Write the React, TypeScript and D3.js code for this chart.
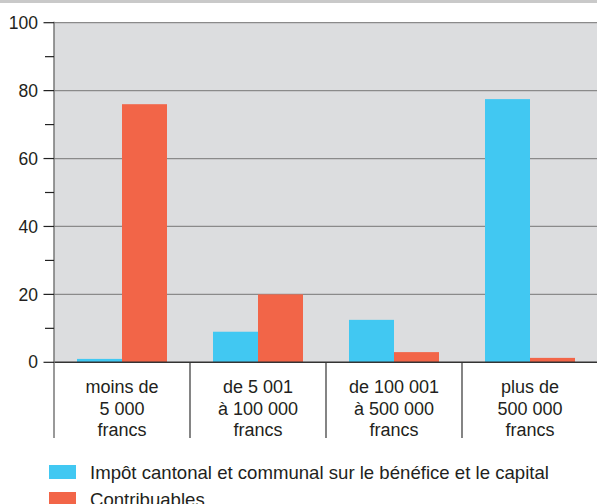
import React from "react";
import * as d3 from "d3";

const categories = [
  ["moins de", "5 000", "francs"],
  ["de 5 001", "à 100 000", "francs"],
  ["de 100 001", "à 500 000", "francs"],
  ["plus de", "500 000", "francs"],
];
const impot = [1.0, 9.0, 12.5, 77.5];
const contribuables = [76.0, 20.0, 3.0, 1.3];
const seriesNames = ["Impôt cantonal et communal sur le bénéfice et le capital", "Contribuables"];
const colors = ["#41C8F2", "#F26548"];
const majorTicks = [0, 20, 40, 60, 80, 100];
const minorTicks = [10, 30, 50, 70, 90];

const W = 597, H = 504;
const left = 54, right = 598, top = 22.7, zero = 362.3;
const font = "'Liberation Sans', Arial, Helvetica, sans-serif";

export default function App() {
  const y = d3.scaleLinear().domain([0, 100]).range([zero, top]);
  const x = d3.scaleBand().domain(categories.map((_, i) => String(i))).range([left, right]).paddingInner(0).paddingOuter(0);
  const inner = d3.scaleBand().domain(["0", "1"]).range([23, 113]);
  const series = [impot, contribuables];
  return (
    <svg width={W} height={H} style={{ position: "absolute", left: 0, top: 0, fontFamily: font }}>
      <rect x={0} y={0} width={W} height={H} fill="#fff" />
      <rect x={0} y={0} width={W} height={3} fill="#c9c9c9" />
      <rect x={left} y={top} width={right - left} height={zero - top} fill="#dcdddf" />
      {majorTicks.filter((t) => t > 0).map((t) => (
        <line key={"g" + t} x1={left} x2={right} y1={y(t)} y2={y(t)} stroke="#8a8a8a" strokeWidth={1.2} />
      ))}
      {series.map((vals, s) =>
        vals.map((v, i) => (
          <rect key={s + "-" + i} x={(x(String(i)) as number) + (inner(String(s)) as number)} y={y(v)} width={inner.bandwidth()} height={zero - y(v)} fill={colors[s]} />
        ))
      )}
      <line x1={left} x2={right} y1={zero} y2={zero} stroke="#333" strokeWidth={1.5} />
      <line x1={left} x2={left} y1={top - 1} y2={438} stroke="#777" strokeWidth={1.5} />
      {categories.slice(1).map((_, i) => (
        <line key={"s" + i} x1={x(String(i + 1))} x2={x(String(i + 1))} y1={zero} y2={438} stroke="#333" strokeWidth={1.2} />
      ))}
      {majorTicks.map((t) => (
        <g key={"t" + t}>
          <line x1={43.5} x2={left} y1={y(t)} y2={y(t)} stroke="#222" strokeWidth={1.2} />
          <text x={38} y={y(t)} dy="0.35em" textAnchor="end" fontSize={17.5} fill="#231f20">{t}</text>
        </g>
      ))}
      {minorTicks.map((t) => (
        <line key={"m" + t} x1={45} x2={left} y1={y(t)} y2={y(t)} stroke="#222" strokeWidth={1.2} />
      ))}
      {categories.map((lines, i) => (
        <text key={"c" + i} textAnchor="middle" fontSize={18} fill="#231f20">
          {lines.map((l, k) => (
            <tspan key={k} x={(x(String(i)) as number) + x.bandwidth() / 2} y={393 + k * 21.6}>{l}</tspan>
          ))}
        </text>
      ))}
      {seriesNames.map((n, s) => (
        <g key={"l" + s}>
          <rect x={49} y={465 + s * 27} width={27} height={14} fill={colors[s]} />
          <text x={90} y={479 + s * 27} fontSize={18.6} fill="#231f20">{n}</text>
        </g>
      ))}
    </svg>
  );
}
